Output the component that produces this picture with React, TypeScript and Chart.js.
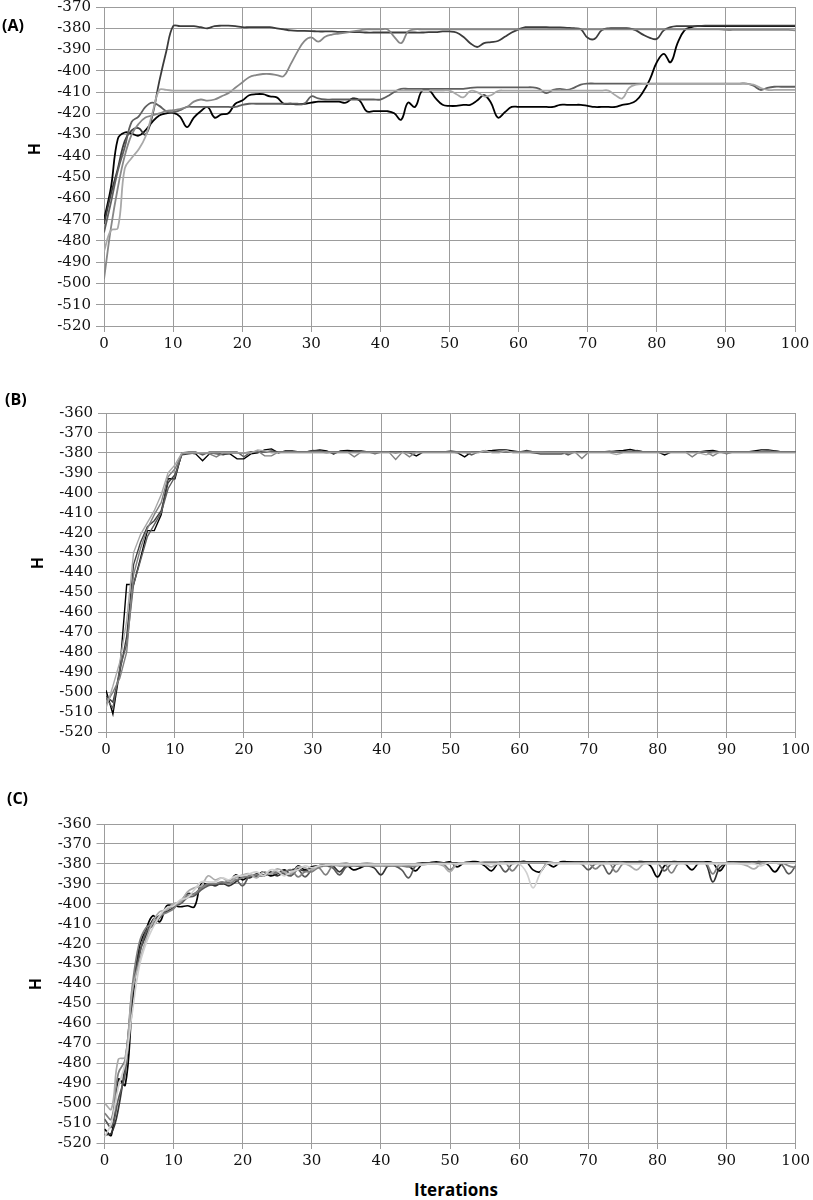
import React, { useEffect, useRef } from "react";
import { Chart, registerables } from "chart.js";
Chart.register(...registerables);

// ---------- categories ----------
const ITERATIONS = [
  0, 1, 2, 3, 4, 5, 6, 7, 8, 9,
  10, 11, 12, 13, 14, 15, 16, 17, 18, 19,
  20, 21, 22, 23, 24, 25, 26, 27, 28, 29,
  30, 31, 32, 33, 34, 35, 36, 37, 38, 39,
  40, 41, 42, 43, 44, 45, 46, 47, 48, 49,
  50, 51, 52, 53, 54, 55, 56, 57, 58, 59,
  60, 61, 62, 63, 64, 65, 66, 67, 68, 69,
  70, 71, 72, 73, 74, 75, 76, 77, 78, 79,
  80, 81, 82, 83, 84, 85, 86, 87, 88, 89,
  90, 91, 92, 93, 94, 95, 96, 97, 98, 99,
  100,
];

const X_MIN = 0;
const X_MAX = 100;
const X_STEP = 10;
const A_Y_MIN = -520;
const A_Y_MAX = -370;
const BC_Y_MIN = -520;
const BC_Y_MAX = -360;
const Y_STEP = 10;

const PANEL_LABELS = ["(A)", "(B)", "(C)"];
const Y_TITLE = "H";
const X_TITLE = "Iterations";

// ---------- panel A ----------
const A_S1 = [
  -472, -458, -446, -433, -428, -427, -430, -421, -405, -391,
  -379, -379, -379, -379, -379.5, -380, -379, -378.8, -378.8, -379,
  -379.5, -379.5, -379.5, -379.5, -379.5, -380, -380.5, -381, -381.2, -381.2,
  -381.3, -381.5, -381.5, -381.5, -381.7, -381.7, -381.8, -381.8, -382, -382,
  -382, -382, -382, -382, -382, -382, -382, -381.8, -381.8, -381.5,
  -381.5, -382, -384, -387, -388.8, -387, -386.5, -386, -384, -382,
  -380.5, -379.5, -379.5, -379.5, -379.5, -379.6, -379.6, -379.8, -380, -380.5,
  -384.5, -385, -381, -380, -380, -380, -380, -381, -383, -384.5,
  -385, -381, -379.5, -379, -379, -379, -379, -378.8, -378.8, -378.8,
  -378.8, -378.8, -378.8, -378.8, -378.8, -378.8, -378.8, -378.8, -378.8, -378.8,
  -378.8,
];
const A_S2 = [
  -498, -474, -455, -440, -430, -425, -422, -421, -420, -419,
  -418.5, -418, -417, -414.5, -413.5, -414, -413.5, -412, -410.5, -408,
  -405.5, -403, -402, -401.5, -401.5, -402, -402.5, -397, -391, -386,
  -384.3, -386.3, -384, -383, -382.5, -382, -381.5, -381, -380.5, -380.5,
  -380.5, -380.5, -384, -387, -381.5, -380.5, -380.5, -380.5, -380.5, -380.5,
  -380.5, -380.5, -380.5, -380.5, -380.5, -380.5, -380.5, -380.5, -380.5, -380.5,
  -380.5, -380.5, -380.5, -380.5, -380.5, -380.5, -380.5, -380.5, -380.5, -380.5,
  -380.5, -380.5, -380.5, -380.5, -380.5, -380.5, -380.5, -380.5, -380.5, -380.5,
  -380.5, -380.5, -380.5, -380.5, -380.5, -380.5, -380.5, -380.5, -380.5, -380.5,
  -380.8, -380.8, -380.8, -380.8, -380.8, -380.8, -380.8, -380.8, -380.8, -380.8,
  -381,
];
const A_S3 = [
  -470, -455, -432, -429, -429.5, -430.5, -428, -424, -421, -420,
  -419.8, -421.5, -426.5, -422, -419, -417, -422, -420.5, -420, -415.5,
  -414, -411.5, -411, -411, -412, -412.5, -415.5, -415.5, -415.8, -415.5,
  -415, -414.5, -414.5, -414.5, -414.5, -415, -413, -414, -419, -419,
  -419, -419, -420, -423, -415, -417, -409.5, -409, -413, -416,
  -416.5, -416.5, -416, -416, -414, -411.5, -415, -422, -419.5, -417,
  -417, -417, -417, -417, -417, -417, -416, -416, -416, -416,
  -416.5, -417, -417, -417, -417, -416, -415.5, -414, -410, -404,
  -396, -392, -396, -387, -381, -379.5, -379, -379, -379, -379,
  -379, -379, -379, -379, -379, -379, -379, -379, -379, -379,
  -379,
];
const A_S4 = [
  -485, -475, -474, -446, -441, -437, -431, -420, -409, -409,
  -409.3, -409.3, -409.3, -409.3, -409.3, -409.3, -409.3, -409.3, -409.3, -409.3,
  -409.3, -409.3, -409.3, -409.3, -409.3, -409.3, -409.3, -409.3, -409.3, -409.3,
  -409.3, -409.3, -409.3, -409.3, -409.3, -409.3, -409.3, -409.3, -409.3, -409.3,
  -409.3, -409.3, -409.3, -409.3, -409.3, -409.3, -409.3, -409.3, -409.3, -409.3,
  -409.3, -411, -412.5, -409.5, -410, -412, -411.5, -409.5, -409.3, -409.3,
  -409.3, -409.3, -409.3, -409.3, -409.3, -409.3, -409.3, -409.3, -409.3, -409.3,
  -409.3, -409.3, -409.3, -409.3, -411.5, -413, -408, -406.5, -406.2, -406.2,
  -406.2, -406.2, -406.2, -406.2, -406.2, -406.2, -406.2, -406.2, -406.2, -406.2,
  -406.2, -406.2, -406.2, -406.2, -406.5, -408, -409, -409, -409, -409,
  -409,
];
const A_S5 = [
  -476, -462, -447, -436, -424, -421.5, -417, -415, -416.5, -419,
  -419.5, -418.5, -417, -417, -417, -417, -417, -417, -417, -417,
  -416, -415.5, -415.5, -415.5, -415.5, -415.5, -415.5, -415.5, -415.5, -415.5,
  -412, -413, -413.5, -413.5, -413.5, -413.5, -413.5, -413.5, -413.5, -413.5,
  -413.5, -412, -410, -408.5, -408.5, -408.5, -408.5, -408.5, -408.5, -408.5,
  -408.5, -408.5, -408.5, -408, -407.8, -407.8, -407.8, -407.8, -407.8, -407.8,
  -407.8, -407.8, -407.8, -408.5, -410.5, -409, -408.5, -409, -408, -406.5,
  -406, -406, -406, -406, -406, -406, -406, -406, -406, -406,
  -406, -406, -406, -406, -406, -406, -406, -406, -406, -406,
  -406, -406, -406, -406, -407, -409, -408, -407.5, -407.5, -407.5,
  -407.5,
];

// ---------- panel B ----------
const B_S1 = [
  -499, -511, -489, -446, -446, -433, -419, -419, -411, -393,
  -393, -380, -380, -380.5, -384, -380.5, -380, -380.5, -380.5, -383,
  -383, -380.5, -380, -378.5, -378, -380, -379, -379, -379.5, -379.5,
  -379, -378.5, -379, -380.5, -379, -378.8, -379, -379, -379.5, -379.5,
  -379.5, -379.5, -380, -379.5, -380, -381.5, -379.5, -379.5, -379.5, -379.5,
  -379.5, -380, -382, -379.5, -379.5, -379, -378.8, -378.5, -378.5, -379,
  -379.5, -379.5, -380, -380.5, -380.5, -380.5, -380.5, -380, -379.5, -379.5,
  -379.5, -379.5, -379.5, -379.5, -379, -378.8, -378.3, -379, -379.5, -379.5,
  -379.5, -381, -379.5, -379.5, -379.5, -379.5, -379.5, -379, -378.8, -379.5,
  -379.5, -379.5, -379.5, -379.5, -379, -378.5, -378.5, -379, -379.5, -379.5,
  -379.5,
];
const B_S2 = [
  -502, -505, -490, -472, -436, -425, -417, -414, -409, -395,
  -391, -381, -380.5, -380, -380, -380, -380.5, -381, -380, -380,
  -380, -379.5, -379.5, -379.5, -379, -379.5, -379.5, -379.5, -379.5, -379.5,
  -378.8, -379, -379.5, -379.5, -379.5, -379.5, -379.5, -379.5, -379.5, -380.5,
  -379.5, -379.5, -379.5, -379.5, -379.5, -379.5, -379.5, -379.5, -379.5, -379.5,
  -379, -379.5, -379.5, -379.5, -379.5, -379.5, -379.5, -379.5, -379.5, -379.5,
  -379.5, -378.8, -379.5, -380, -379.5, -379.5, -379.5, -379.5, -379.5, -379.5,
  -379.5, -379.5, -379.5, -379.2, -379.5, -379.5, -379.5, -378.8, -379.5, -379.5,
  -379.5, -379.5, -379.5, -379.5, -379.5, -379.5, -380, -379.5, -379.5, -379.5,
  -379.5, -379.5, -379.5, -379.5, -379.5, -379.5, -379.5, -379, -379.5, -379.5,
  -379.5,
];
const B_S3 = [
  -506, -500, -493, -480, -441, -428, -418, -411, -405, -392,
  -388, -380.5, -380, -380, -380, -380.5, -382, -380, -380, -380,
  -380, -380, -379, -381.5, -381.5, -379.5, -379.5, -379.5, -379.5, -379.5,
  -379.5, -379.5, -379.5, -379.5, -379.5, -379.5, -382, -379.5, -379.5, -379.5,
  -379.5, -379.5, -383.3, -379.5, -382, -379.5, -379.5, -379.5, -379.5, -379.5,
  -379.5, -379.5, -379.5, -379.5, -379.5, -379.5, -379.5, -379.5, -379.5, -379.5,
  -379.5, -379.5, -379.5, -379.5, -379.5, -379.5, -379.5, -379.5, -379.5, -382.8,
  -379.5, -379.5, -379.5, -379.5, -379.5, -379.5, -379.5, -379.5, -379.5, -379.5,
  -379.5, -379.5, -379.5, -379.5, -379.5, -382, -379.5, -379.5, -381.5, -379.5,
  -379.5, -379.5, -379.5, -379.5, -379.5, -379.5, -379.5, -379.5, -379.5, -379.5,
  -379.5,
];
const B_S4 = [
  -508, -497, -485, -464, -430, -421, -415, -409, -401, -390,
  -386, -380, -380, -380, -380, -380, -380, -380, -380, -380,
  -380, -380, -378.5, -379, -380, -380, -380, -380, -380, -380,
  -380, -380, -380, -380, -380, -380, -380, -380, -380, -380,
  -380, -380, -380, -380, -380, -380, -380, -380, -380, -380,
  -380, -380, -380, -380, -380, -378.8, -380, -380, -378.8, -380,
  -380, -380, -380, -380, -380, -380, -380, -380, -380, -380,
  -380, -380, -380, -380, -380.8, -380, -380, -380, -380, -380,
  -380, -380, -380, -380, -380, -380, -380, -381, -380, -380,
  -380, -380, -380, -380, -380, -380, -380, -380, -380, -380,
  -380,
];
const B_S5 = [
  -503, -508, -488, -476, -446, -434, -422, -416, -410, -398,
  -392, -380, -379.5, -379.5, -381, -379.5, -379.5, -379.5, -379.5, -379.5,
  -382, -379.5, -379.5, -379.5, -379.5, -379.5, -379.5, -379.5, -379.5, -379.5,
  -379.5, -379.5, -380, -379.5, -379.5, -379.5, -379.5, -379.5, -379.5, -379.5,
  -379.5, -379.5, -379.5, -379.5, -379.5, -379.5, -379.5, -379.5, -379.5, -379.5,
  -379.5, -379.5, -379.5, -381, -379.5, -379.5, -379.5, -379.5, -379.5, -379.5,
  -379.5, -379.5, -379.5, -379.5, -379.5, -379.5, -379.5, -381, -379.5, -379.5,
  -379.5, -379.5, -379.5, -379.5, -379.5, -379.5, -379.5, -379.5, -379.5, -379.5,
  -379.5, -379.5, -379.5, -379.5, -379.5, -379.5, -379.5, -379.5, -379.5, -379.5,
  -380.5, -379.5, -379.5, -379.5, -379.5, -379.5, -378.8, -379.5, -379.5, -379.5,
  -379.5,
];

// ---------- panel C ----------
const C_S1 = [
  -513, -516, -488, -491, -452, -422, -413, -406, -409, -401,
  -401, -401.5, -401, -401.5, -390, -390.5, -390, -390, -389.5, -385.5,
  -388, -386, -386, -384, -386, -385, -383, -385, -381, -383,
  -381.5, -381, -380.5, -380.5, -380.5, -380.5, -383, -382, -380.5, -380.5,
  -380.5, -380.5, -380.5, -380.5, -381, -383.5, -380, -379.5, -379, -379.5,
  -379, -381.5, -379.5, -379, -379, -381, -383.5, -379.5, -379, -379,
  -379, -379, -383, -384, -380, -381.5, -379, -379, -379, -379,
  -379, -379, -379, -379.5, -380, -379, -379, -379, -379, -381,
  -386.5, -381, -379, -379, -380, -383, -379.5, -379, -379.5, -383.5,
  -379.5, -379, -379, -379, -379, -379, -380.5, -384, -380, -379,
  -379,
];
const C_S2 = [
  -516, -515, -503, -480, -447, -425, -416, -408, -406, -404,
  -402, -399, -395, -395, -392, -390, -391, -389.5, -391, -389,
  -386.5, -387, -385, -386, -384, -386, -384, -383, -382.5, -383.5,
  -382, -381.5, -381, -381, -384, -381, -381, -381, -381, -382,
  -385.5, -381, -380.5, -380.5, -380.5, -380, -379.5, -379.5, -379.5, -379.5,
  -379.5, -379.5, -379.5, -379.5, -379.5, -379.2, -379.2, -379.2, -379.2, -379.2,
  -379, -379, -379, -379, -379, -379.5, -379.5, -379.5, -379, -379,
  -379, -379, -379, -379, -379, -379, -379, -379, -379, -379,
  -379, -379, -379, -379, -379, -379, -379, -380, -389, -382,
  -379.5, -379, -379, -379, -379, -379, -379, -379, -379, -379,
  -379,
];
const C_S3 = [
  -508, -512, -498, -485, -445, -427, -414, -411, -407, -403,
  -401, -400, -397, -396, -393, -391, -390, -390, -388.5, -388,
  -391, -386, -386.5, -385.5, -385, -384, -385, -386, -383, -386.5,
  -383, -381, -381, -382, -385.5, -381.5, -381, -381, -380.5, -380.5,
  -380.5, -381, -381, -383, -387, -381, -380, -379.5, -379.5, -379.5,
  -379.5, -379.5, -379.5, -379.5, -379.5, -379.5, -379.5, -380, -384, -380,
  -379.5, -379.5, -379.5, -379.5, -379.5, -379.5, -379.5, -379.5, -379.5, -380,
  -383, -380, -380, -385, -380, -379.5, -379.5, -379.5, -379.5, -379.5,
  -379.5, -383.5, -380, -379.5, -379.5, -379.5, -379.5, -379.5, -379.5, -379.5,
  -379.5, -379.5, -379.5, -379.5, -379.5, -379.5, -379.5, -379.5, -380.5, -385,
  -381,
];
const C_S4 = [
  -505, -508, -485, -478, -442, -420, -412, -410, -406, -404.5,
  -402.5, -398.5, -396, -395, -392, -390, -390, -389, -390, -388,
  -387, -386, -385.5, -386, -385, -384.5, -384, -383, -386.5, -384,
  -384, -382, -385.5, -381, -381, -381, -381, -381, -381, -381,
  -381, -381, -381, -381, -381.5, -381, -380.5, -380, -380, -380,
  -383, -380, -379.5, -379.5, -379.5, -379.5, -379.5, -379.5, -379.5, -383.5,
  -380, -379.5, -379.5, -379.5, -379.5, -379.5, -379.5, -379.5, -379.5, -379.5,
  -379.5, -382.5, -380, -379.5, -384, -380, -379.5, -379.5, -379.5, -379.5,
  -379.5, -379.5, -384.5, -380, -379.5, -379.5, -379.5, -379.5, -385, -380,
  -379.5, -379.5, -379.5, -379.5, -379.5, -379.5, -379.5, -379.5, -379.5, -381,
  -382,
];
const C_S5 = [
  -500, -503, -478, -477, -444, -430, -418, -409, -404, -403,
  -400, -399, -394, -392, -391, -386, -388, -387, -389, -387,
  -385.5, -385, -387, -384, -385, -382.5, -384, -385, -381.5, -382,
  -383, -381, -381, -380, -380, -379.5, -381, -380, -379.5, -380,
  -380, -380, -380, -380, -380, -380, -380, -380, -380, -381,
  -384, -380, -379.5, -379.5, -379.5, -380, -381.5, -379.5, -379.5, -379.5,
  -379.5, -379.5, -379.5, -379.5, -379.5, -379.5, -379.5, -379.5, -379.5, -379.5,
  -379.5, -379.5, -379.5, -379.5, -379.5, -379.5, -381, -383, -380, -379.5,
  -379.5, -379.5, -379.5, -379.5, -379.5, -379.5, -379.5, -379.5, -379.5, -379.5,
  -379.5, -379.5, -380, -381, -382.5, -380, -379.5, -379.5, -379.5, -379.5,
  -379.5,
];
const C_S6 = [
  -517, -510, -492, -480, -455, -432, -420, -412, -406, -402,
  -401, -398, -397, -393, -389, -389, -389, -387, -388, -386,
  -386, -385, -384, -386, -383, -383.5, -386, -384, -383, -381,
  -382, -381, -380.5, -380.5, -380.5, -380.5, -380.5, -380.5, -380.5, -380.5,
  -380.5, -380.5, -380.5, -380.5, -380.5, -380.5, -380.5, -380, -380, -380,
  -380, -380, -380, -380, -380, -380, -380, -380, -380, -380,
  -380, -384, -392, -385, -380, -380, -380, -380, -380, -380,
  -380, -380, -380, -380, -380, -380, -380, -380, -380, -380,
  -380, -380, -380, -380, -380, -380, -380, -380, -380, -380,
  -380, -380, -380, -380, -380, -381, -379.5, -379.5, -379.5, -379.5,
  -379.5,
];

// ---------- styling ----------
const GRID = "#9c9c9c";
const TICK_FONT = { family: '"DejaVu Serif", "Liberation Serif", serif', size: 15 };
const LABEL_FONT = '"Open Sans", "Noto Sans", sans-serif';

type SeriesSpec = { values: number[]; color: string };

type PanelProps = {
  top: number;
  height: number;
  padTop: number;
  padLeft: number;
  padRight: number;
  axisWidth: number;
  axisHeight: number;
  yMin: number;
  yMax: number;
  tension: number;
  lineWidth: number;
  series: SeriesSpec[];
};

function Panel(p: PanelProps) {
  const ref = useRef<HTMLCanvasElement | null>(null);
  useEffect(() => {
    if (!ref.current) return;
    const chart = new Chart(ref.current, {
      type: "line",
      data: {
        datasets: p.series.map((s) => ({
          data: s.values.map((v, i) => ({ x: ITERATIONS[i], y: v })),
          borderColor: s.color,
          backgroundColor: s.color,
          borderWidth: p.lineWidth,
          pointRadius: 0,
          pointHoverRadius: 0,
          tension: p.tension,
          fill: false,
        })),
      },
      options: {
        animation: false,
        responsive: true,
        maintainAspectRatio: false,
        events: [],
        layout: { padding: { top: p.padTop, left: p.padLeft, right: p.padRight, bottom: 0 } },
        plugins: { legend: { display: false }, tooltip: { enabled: false }, title: { display: false } },
        scales: {
          x: {
            type: "linear",
            min: X_MIN,
            max: X_MAX,
            ticks: { stepSize: X_STEP, autoSkip: false, maxRotation: 0, font: TICK_FONT, color: "#111", padding: 3 },
            grid: { color: GRID, lineWidth: 1, tickLength: 6 },
            border: { color: GRID, width: 1 },
            afterFit: (s: any) => {
              s.height = p.axisHeight;
            },
          },
          y: {
            type: "linear",
            min: p.yMin,
            max: p.yMax,
            ticks: { stepSize: Y_STEP, autoSkip: false, font: TICK_FONT, color: "#111", padding: 5 },
            grid: { color: GRID, lineWidth: 1, tickLength: 8 },
            border: { color: GRID, width: 1 },
            afterFit: (s: any) => {
              s.width = p.axisWidth;
            },
          },
        },
      },
    } as any);
    return () => chart.destroy();
  }, []);
  return (
    <div style={{ position: "absolute", left: 0, top: p.top, width: 813, height: p.height }}>
      <canvas ref={ref} />
    </div>
  );
}

function Label(props: { text: string; left: number; top: number; size: number }) {
  return (
    <div
      style={{
        position: "absolute",
        left: props.left,
        top: props.top,
        fontFamily: LABEL_FONT,
        fontWeight: 700,
        fontSize: props.size,
        lineHeight: "20px",
        color: "#000",
        whiteSpace: "nowrap",
      }}
    >
      {props.text}
    </div>
  );
}

function YTitle(props: { cx: number; cy: number }) {
  return (
    <div
      style={{
        position: "absolute",
        left: props.cx,
        top: props.cy,
        transform: "translate(-50%, -50%) rotate(-90deg)",
        fontFamily: LABEL_FONT,
        fontWeight: 700,
        fontSize: 16,
        lineHeight: "20px",
        color: "#000",
      }}
    >
      {Y_TITLE}
    </div>
  );
}

export default function App() {
  return (
    <div style={{ position: "absolute", left: 0, top: 0, width: 813, height: 1200, background: "#fff", overflow: "hidden" }}>
      <Panel
        top={-10}
        height={370}
        padTop={17}
        padLeft={20}
        padRight={18}
        axisWidth={84}
        axisHeight={34}
        yMin={A_Y_MIN}
        yMax={A_Y_MAX}
        tension={0.4}
        lineWidth={1.8}
        series={[
          { values: A_S4, color: "#a8a8a8" },
          { values: A_S2, color: "#878787" },
          { values: A_S5, color: "#5f5f5f" },
          { values: A_S1, color: "#3c3c3c" },
          { values: A_S3, color: "#000000" },
        ]}
      />
      <Panel
        top={370}
        height={396}
        padTop={43}
        padLeft={20}
        padRight={16}
        axisWidth={86}
        axisHeight={34}
        yMin={BC_Y_MIN}
        yMax={BC_Y_MAX}
        tension={0}
        lineWidth={1.4}
        series={[
          { values: B_S4, color: "#a8a8a8" },
          { values: B_S3, color: "#808080" },
          { values: B_S5, color: "#5e5e5e" },
          { values: B_S2, color: "#404040" },
          { values: B_S1, color: "#000000" },
        ]}
      />
      <Panel
        top={780}
        height={398}
        padTop={44}
        padLeft={20}
        padRight={16}
        axisWidth={84.5}
        axisHeight={35}
        yMin={BC_Y_MIN}
        yMax={BC_Y_MAX}
        tension={0.4}
        lineWidth={1.7}
        series={[
          { values: C_S6, color: "#d0d0d0" },
          { values: C_S5, color: "#ababab" },
          { values: C_S4, color: "#808080" },
          { values: C_S3, color: "#5a5a5a" },
          { values: C_S2, color: "#333333" },
          { values: C_S1, color: "#000000" },
        ]}
      />
      <Label text={PANEL_LABELS[0]} left={2} top={15} size={16} />
      <Label text={PANEL_LABELS[1]} left={5} top={389} size={16} />
      <Label text={PANEL_LABELS[2]} left={7} top={788} size={16} />
      <YTitle cx={33.5} cy={148.5} />
      <YTitle cx={37} cy={563} />
      <YTitle cx={35} cy={984} />
      <div
        style={{
          position: "absolute",
          left: 456,
          top: 1190,
          transform: "translate(-50%, -50%)",
          fontFamily: LABEL_FONT,
          fontWeight: 700,
          fontSize: 17,
          lineHeight: "20px",
          color: "#000",
          whiteSpace: "nowrap",
        }}
      >
        {X_TITLE}
      </div>
    </div>
  );
}
